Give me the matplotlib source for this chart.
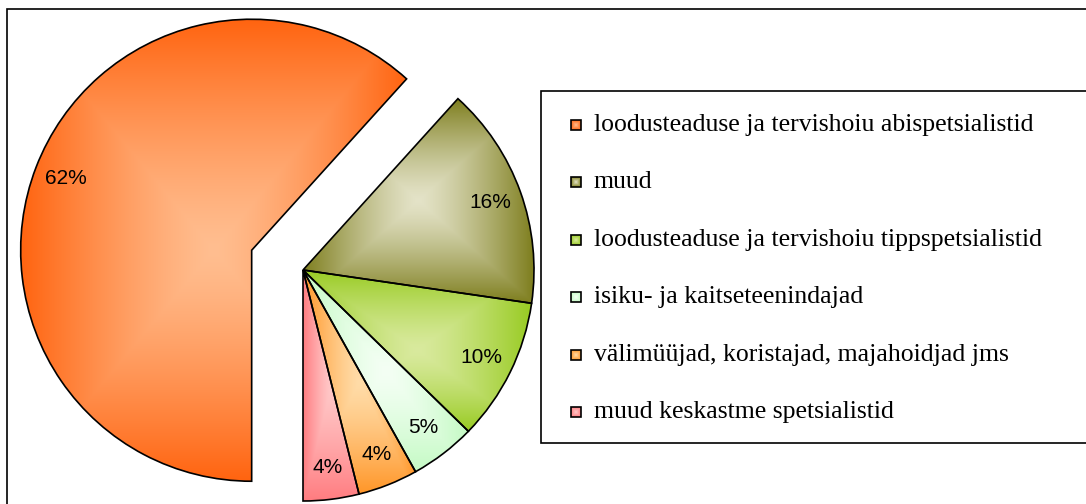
import matplotlib
matplotlib.use("Agg")
import matplotlib.pyplot as plt
import numpy as np
from matplotlib.colors import to_rgb
from matplotlib.patches import Rectangle

# canvas size in pixels (dpi 100)
W, H = 1086, 504

categories = [
    "loodusteaduse ja tervishoiu abispetsialistid",
    "muud",
    "loodusteaduse ja tervishoiu tippspetsialistid",
    "isiku- ja kaitseteenindajad",
    "välimüüjad, koristajad, majahoidjad jms",
    "muud keskastme spetsialistid",
]
shares = [61.7, 15.6, 10.0, 4.6, 4.2, 3.9]
explode = [55, 0, 0, 0, 0, 0]

# gradient end colours per slice: rim -> centre
rim_colors = ["#FF6410", "#7E7E1E", "#98CB22", "#C4FAC4", "#FF9628", "#FF7C80"]
core_colors = ["#FFBE90", "#E4E3C8", "#D9EA9E", "#F4FFF4", "#FFDCA8", "#FFC8C8"]


def gradient_fill(ax, patch, core, rim, zorder=0.5, power=1.3):
    """Paint a rectangular centre-out gradient clipped to a patch."""
    path = patch.get_patch_transform().transform_path(patch.get_path())
    x0, y0, x1, y1 = path.get_extents().extents
    u = np.linspace(-1, 1, 300)
    uu, vv = np.meshgrid(u, u)
    t = np.maximum(np.abs(uu), np.abs(vv)) ** power
    c0 = np.array(to_rgb(core))
    c1 = np.array(to_rgb(rim))
    img = c0 * (1 - t)[..., None] + c1 * t[..., None]
    im = ax.imshow(img, extent=(x0, x1, y0, y1), origin="lower",
                   interpolation="bilinear", aspect="auto", zorder=zorder)
    im.set_clip_path(patch)
    patch.set_facecolor("none")


fig = plt.figure(figsize=(W / 100, H / 100), dpi=100)
ax = fig.add_axes([0, 0, 1, 1])

wedges, texts, autotexts = ax.pie(
    shares,
    explode=explode,
    center=(303, H - 270),
    radius=231,
    startangle=-90,
    counterclock=False,
    autopct="%.0f%%",
    pctdistance=0.86,
    wedgeprops=dict(edgecolor="black", linewidth=1.2),
    textprops=dict(family="Liberation Sans", fontsize=15, color="black"),
)
for w, core, rim in zip(wedges, core_colors, rim_colors):
    w.set_zorder(2)
    gradient_fill(ax, w, core, rim)
for t in autotexts:
    t.set_zorder(3)

# outer chart border (runs off the right and bottom edges)
ax.add_patch(Rectangle((7, -20), 1200, H - 9 + 20, facecolor="none",
                       edgecolor="black", linewidth=1.2, zorder=4))

# legend box
ax.add_patch(Rectangle((541, H - 443), 600, 443 - 91, facecolor="white",
                       edgecolor="black", linewidth=1.2, zorder=4))
row_y = 125
for name, core, rim in zip(categories, core_colors, rim_colors):
    y = H - row_y
    sq = Rectangle((571, y - 5), 10, 10, edgecolor="black", linewidth=1.2,
                   zorder=6)
    ax.add_patch(sq)
    gradient_fill(ax, sq, core, rim, zorder=5, power=1.0)
    ax.text(594, y, name, family="Liberation Serif", fontsize=18.5,
            va="center", ha="left", zorder=6)
    row_y += 57.4

ax.set_xlim(0, W)
ax.set_ylim(0, H)
ax.set_aspect("auto")
ax.axis("off")

fig.savefig("out.png", dpi=100, facecolor="white")
